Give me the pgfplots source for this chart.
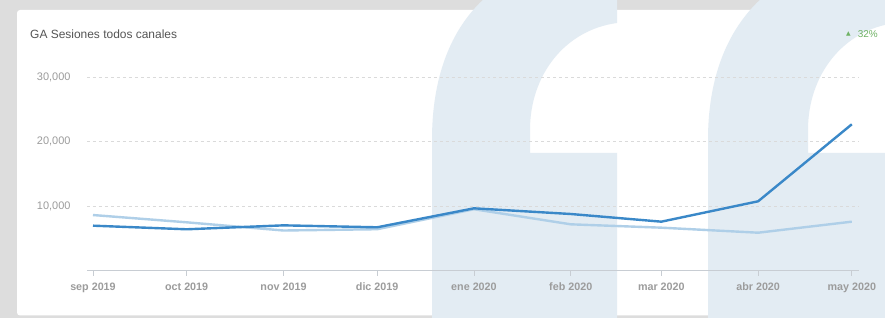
\documentclass[border=0pt]{standalone}
\usepackage{pgfplots}
\pgfplotsset{compat=1.18}
\usepackage{fontspec}
\setmainfont{Liberation Sans}
\newfontfamily\symfont{DejaVu Sans}
\definecolor{framegray}{HTML}{DDDDDD}
\definecolor{wm}{HTML}{E3ECF3}
\definecolor{titlegray}{HTML}{555555}
\definecolor{ticklab}{HTML}{9C9C9C}
\definecolor{axisgray}{HTML}{C8CDD3}
\definecolor{gridgray}{HTML}{DADADA}
\definecolor{darkblue}{HTML}{3A88C8}
\definecolor{lightblue}{HTML}{AFCFE8}
\definecolor{upgreen}{HTML}{6FB264}
\begin{document}
\begin{tikzpicture}
\useasboundingbox (0,0) rectangle (885bp,318bp);
\fill[framegray] (0,0) rectangle (885bp,318bp);
\begin{scope}[x=1bp,y=-1bp,yshift=318bp]
\clip (0,0) rectangle (885,318);
\fill[white, rounded corners=3bp] (17,10) rectangle (900,315.5);
% watermark shapes
\fill[wm] (432,320) -- (432,140) .. controls (432,70) and (455,25) .. (485,-2) -- (617,-2) -- (617,23)
  .. controls (565,30) and (530,75) .. (530,130) -- (530,153) -- (617,153) -- (617,320) -- cycle;
\fill[wm] (708,320) -- (708,140) .. controls (708,70) and (732,25) .. (762,-2) -- (895,-2) -- (895,23)
  .. controls (843,30) and (808,75) .. (808,130) -- (808,153) -- (895,153) -- (895,320) -- cycle;
\node[anchor=west, inner sep=0pt, text=titlegray, font=\fontsize{12}{14}\selectfont] at (30,34) {GA Sesiones todos canales};
\node[anchor=east, inner sep=0pt, text=upgreen, font=\fontsize{10}{12}\selectfont] at (878,34) {32\%};
\node[anchor=center, inner sep=0pt, text=upgreen, font=\symfont\fontsize{6}{7}\selectfont] at (848.5,34) {▲};
\end{scope}
\begin{axis}[
  at={(87bp,47.5bp)}, anchor=south west,
  scale only axis, width=772bp, height=225.75bp,
  xmin=-1.92, xmax=245.3, ymin=0, ymax=35000,
  axis x line*=bottom, axis y line*=left,
  y axis line style={draw=none},
  x axis line style={draw=axisgray, line width=0.8bp},
  xtick={0,30,61,91,122,153,182,213,243},
  xticklabels={sep 2019,oct 2019,nov 2019,dic 2019,ene 2020,feb 2020,mar 2020,abr 2020,may 2020},
  tick align=outside, major tick length=5bp,
  xtick style={draw=axisgray, line width=0.8bp},
  ytick={10000,20000,30000},
  ytick style={draw=none},
  ymajorgrids, grid style={dashed, gridgray, line width=0.6bp},
  /pgf/number format/assume math mode=true,
  /pgf/number format/1000 sep={,},
  scaled y ticks=false,
  xticklabel style={text=ticklab, font=\fontsize{10.8}{12}\selectfont\bfseries, yshift=-4bp},
  yticklabel style={text=ticklab, font=\fontsize{11}{12}\selectfont, xshift=-8bp},
  clip=false,
]
\addplot[lightblue, line width=2.4bp, line join=round] coordinates {
 (0,8600) (30,7470) (61,6200) (91,6400) (122,9500) (153,7160) (182,6640) (213,5860) (243,7570)};
\addplot[darkblue, line width=2.4bp, line join=round] coordinates {
 (0,6950) (30,6390) (61,7000) (91,6700) (122,9640) (153,8760) (182,7570) (213,10730) (243,22670)};
\end{axis}
\end{tikzpicture}
\end{document}
